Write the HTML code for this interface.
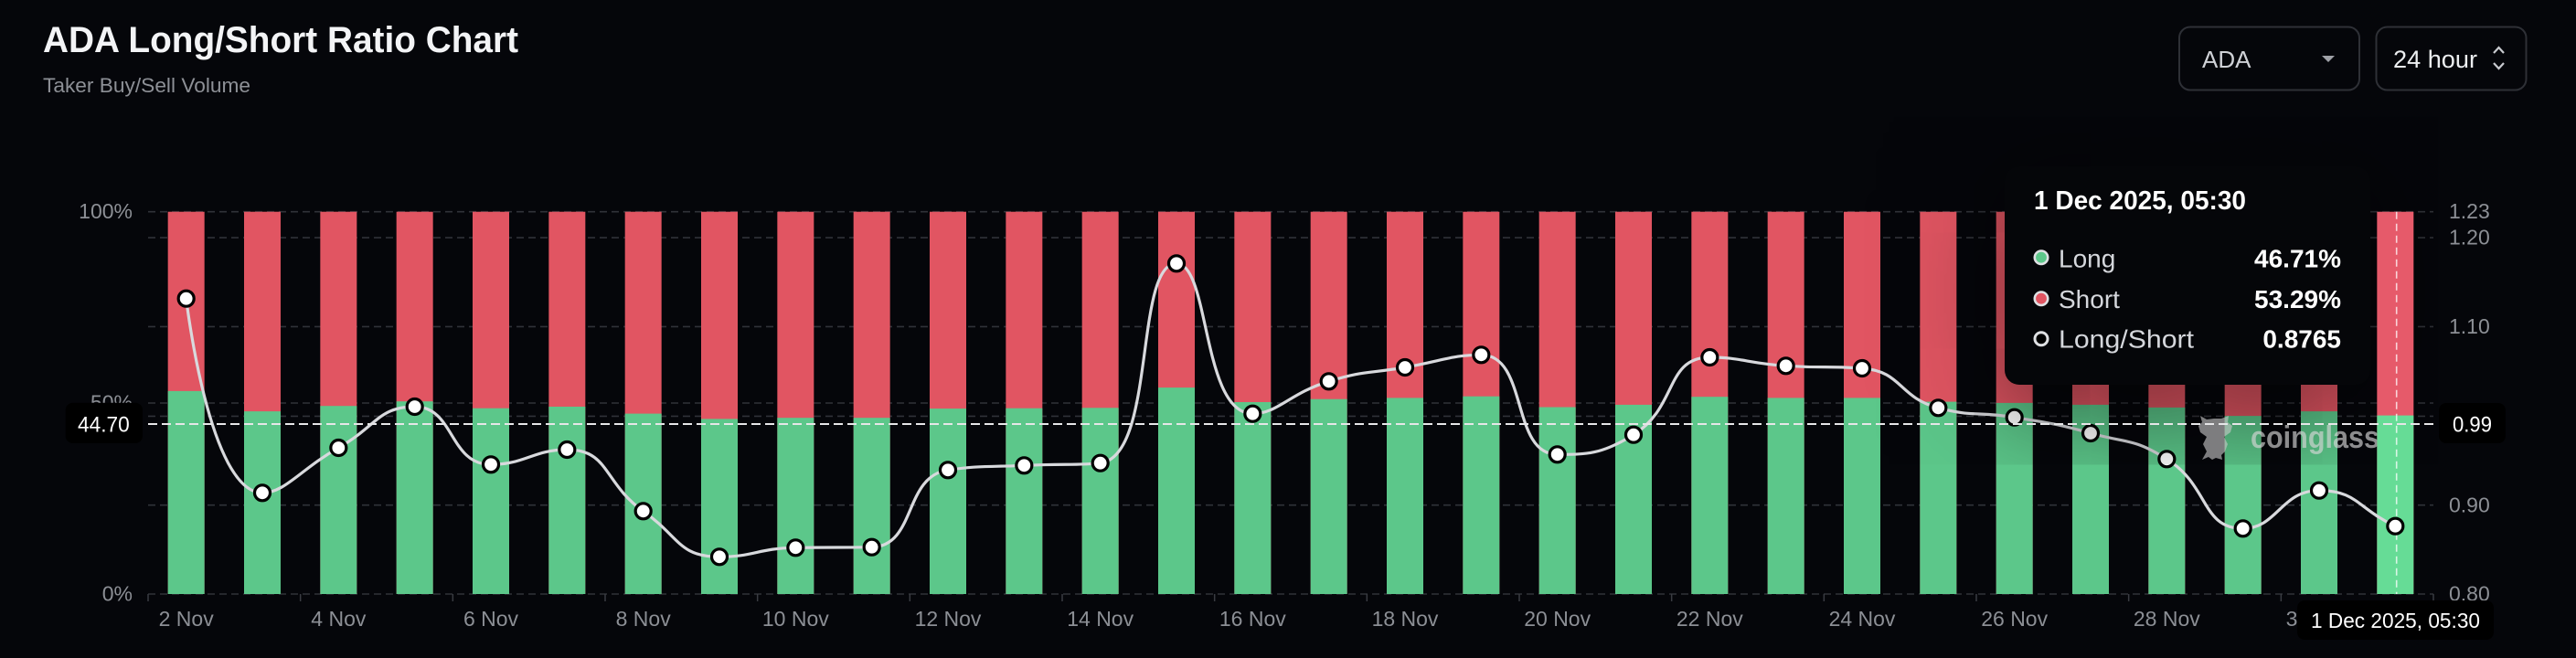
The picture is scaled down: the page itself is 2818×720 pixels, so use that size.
<!DOCTYPE html>
<html><head><meta charset="utf-8">
<style>
html,body{margin:0;padding:0;background:#05060a;}
body{width:2818px;height:720px;position:relative;overflow:hidden;font-family:"Liberation Sans",Arial,sans-serif;}
svg{position:absolute;left:0;top:0;}
#tip{position:absolute;left:2193px;top:182px;width:400px;height:239px;background:#050609;border-radius:16px;box-shadow:0 20px 150px rgba(0,0,0,0.7);}
</style></head><body>
<svg id="chart" width="2818" height="720" xmlns="http://www.w3.org/2000/svg">
<g stroke="#303238" stroke-width="1.6" stroke-dasharray="8 5">
<line x1="162" y1="231.7" x2="2662" y2="231.7"/>
<line x1="162" y1="260.1" x2="2662" y2="260.1"/>
<line x1="162" y1="357.4" x2="2662" y2="357.4"/>
<line x1="162" y1="441" x2="2662" y2="441"/>
<line x1="162" y1="455.4" x2="2662" y2="455.4"/>
<line x1="162" y1="552.7" x2="2662" y2="552.7"/>
<line x1="162" y1="650" x2="2662" y2="650"/>
</g>
<g stroke="#3a3c42" stroke-width="1.5">
<line x1="162" y1="650" x2="162" y2="658"/><line x1="328.67" y1="650" x2="328.67" y2="658"/><line x1="495.33" y1="650" x2="495.33" y2="658"/><line x1="662" y1="650" x2="662" y2="658"/><line x1="828.67" y1="650" x2="828.67" y2="658"/><line x1="995.33" y1="650" x2="995.33" y2="658"/><line x1="1162" y1="650" x2="1162" y2="658"/><line x1="1328.67" y1="650" x2="1328.67" y2="658"/><line x1="1495.33" y1="650" x2="1495.33" y2="658"/><line x1="1662" y1="650" x2="1662" y2="658"/><line x1="1828.67" y1="650" x2="1828.67" y2="658"/><line x1="1995.33" y1="650" x2="1995.33" y2="658"/><line x1="2162" y1="650" x2="2162" y2="658"/><line x1="2328.67" y1="650" x2="2328.67" y2="658"/><line x1="2495.33" y1="650" x2="2495.33" y2="658"/><line x1="2662" y1="650" x2="2662" y2="658"/>
</g>
<g fill="#e15562">
<rect x="183.67" y="231.7" width="40" height="418.3"/><rect x="267" y="231.7" width="40" height="418.3"/><rect x="350.33" y="231.7" width="40" height="418.3"/><rect x="433.67" y="231.7" width="40" height="418.3"/><rect x="517" y="231.7" width="40" height="418.3"/><rect x="600.33" y="231.7" width="40" height="418.3"/><rect x="683.67" y="231.7" width="40" height="418.3"/><rect x="767" y="231.7" width="40" height="418.3"/><rect x="850.33" y="231.7" width="40" height="418.3"/><rect x="933.67" y="231.7" width="40" height="418.3"/><rect x="1017" y="231.7" width="40" height="418.3"/><rect x="1100.33" y="231.7" width="40" height="418.3"/><rect x="1183.67" y="231.7" width="40" height="418.3"/><rect x="1267" y="231.7" width="40" height="418.3"/><rect x="1350.33" y="231.7" width="40" height="418.3"/><rect x="1433.67" y="231.7" width="40" height="418.3"/><rect x="1517" y="231.7" width="40" height="418.3"/><rect x="1600.33" y="231.7" width="40" height="418.3"/><rect x="1683.67" y="231.7" width="40" height="418.3"/><rect x="1767" y="231.7" width="40" height="418.3"/><rect x="1850.33" y="231.7" width="40" height="418.3"/><rect x="1933.67" y="231.7" width="40" height="418.3"/><rect x="2017" y="231.7" width="40" height="418.3"/><rect x="2100.33" y="231.7" width="40" height="418.3"/><rect x="2183.67" y="231.7" width="40" height="418.3"/><rect x="2267" y="231.7" width="40" height="418.3"/><rect x="2350.33" y="231.7" width="40" height="418.3"/><rect x="2433.67" y="231.7" width="40" height="418.3"/><rect x="2517" y="231.7" width="40" height="418.3"/>
</g>
<g fill="#5cc78a">
<rect x="183.67" y="427.9" width="40" height="222.1"/>
<rect x="267" y="450.1" width="40" height="199.9"/>
<rect x="350.33" y="444.2" width="40" height="205.8"/>
<rect x="433.67" y="439.2" width="40" height="210.8"/>
<rect x="517" y="446.7" width="40" height="203.3"/>
<rect x="600.33" y="445" width="40" height="205"/>
<rect x="683.67" y="452.6" width="40" height="197.4"/>
<rect x="767" y="458.4" width="40" height="191.6"/>
<rect x="850.33" y="457.2" width="40" height="192.8"/>
<rect x="933.67" y="457.2" width="40" height="192.8"/>
<rect x="1017" y="447.1" width="40" height="202.9"/>
<rect x="1100.33" y="446.7" width="40" height="203.3"/>
<rect x="1183.67" y="446.3" width="40" height="203.7"/>
<rect x="1267" y="424.1" width="40" height="225.9"/>
<rect x="1350.33" y="440" width="40" height="210"/>
<rect x="1433.67" y="436.7" width="40" height="213.3"/>
<rect x="1517" y="435.4" width="40" height="214.6"/>
<rect x="1600.33" y="433.7" width="40" height="216.3"/>
<rect x="1683.67" y="445.5" width="40" height="204.5"/>
<rect x="1767" y="442.9" width="40" height="207.1"/>
<rect x="1850.33" y="434.2" width="40" height="215.8"/>
<rect x="1933.67" y="435.4" width="40" height="214.6"/>
<rect x="2017" y="435.4" width="40" height="214.6"/>
<rect x="2100.33" y="439.6" width="40" height="210.4"/>
<rect x="2183.67" y="440.9" width="40" height="209.1"/>
<rect x="2267" y="442.9" width="40" height="207.1"/>
<rect x="2350.33" y="445.9" width="40" height="204.1"/>
<rect x="2433.67" y="455.1" width="40" height="194.9"/>
<rect x="2517" y="450.1" width="40" height="199.9"/>
</g>
<path id="line1" fill="none" stroke="#d8d9dd" stroke-width="3.2" d="M203.67,326.7 L287,539.3 L370.33,490 L453.67,445 L537,508.3 L620.33,492 L703.67,559.3 L787,609.3 L870.33,599.3 L953.67,598.7 L1037,514.3 L1120.33,509.3 L1203.67,506.7 L1287,288.3 L1370.33,452.7 L1453.67,417.3 L1537,402 L1620.33,388.3 L1703.67,497.3 L1787,475.7 L1870.33,391 L1953.67,400.3 L2037,403 L2120.33,446.3 L2203.67,456.7 L2287,474 L2370.33,502.3 L2453.67,578.3 L2537,536.7 L2620.33,575.7"/>
<g fill="#ffffff" stroke="#000" stroke-width="3.2">
<circle cx="203.67" cy="326.7" r="8.5"/><circle cx="287" cy="539.3" r="8.5"/><circle cx="370.33" cy="490" r="8.5"/><circle cx="453.67" cy="445" r="8.5"/><circle cx="537" cy="508.3" r="8.5"/><circle cx="620.33" cy="492" r="8.5"/><circle cx="703.67" cy="559.3" r="8.5"/><circle cx="787" cy="609.3" r="8.5"/><circle cx="870.33" cy="599.3" r="8.5"/><circle cx="953.67" cy="598.7" r="8.5"/><circle cx="1037" cy="514.3" r="8.5"/><circle cx="1120.33" cy="509.3" r="8.5"/><circle cx="1203.67" cy="506.7" r="8.5"/><circle cx="1287" cy="288.3" r="8.5"/><circle cx="1370.33" cy="452.7" r="8.5"/><circle cx="1453.67" cy="417.3" r="8.5"/><circle cx="1537" cy="402" r="8.5"/><circle cx="1620.33" cy="388.3" r="8.5"/><circle cx="1703.67" cy="497.3" r="8.5"/><circle cx="1787" cy="475.7" r="8.5"/><circle cx="1870.33" cy="391" r="8.5"/><circle cx="1953.67" cy="400.3" r="8.5"/><circle cx="2037" cy="403" r="8.5"/><circle cx="2120.33" cy="446.3" r="8.5"/><circle cx="2203.67" cy="456.7" r="8.5"/><circle cx="2287" cy="474" r="8.5"/><circle cx="2370.33" cy="502.3" r="8.5"/><circle cx="2453.67" cy="578.3" r="8.5"/><circle cx="2537" cy="536.7" r="8.5"/>
</g>
</svg>
<div id="tip"></div>
<svg id="over" width="2818" height="720" xmlns="http://www.w3.org/2000/svg">
<defs><clipPath id="clipLast"><rect x="2598" y="200" width="50" height="460"/></clipPath></defs>
<text x="47" y="57" font-size="40" font-weight="bold" fill="#f3f4f6" textLength="520" lengthAdjust="spacingAndGlyphs">ADA Long/Short Ratio Chart</text>
<text x="47" y="101" font-size="22" fill="#8d9096" textLength="227" lengthAdjust="spacingAndGlyphs">Taker Buy/Sell Volume</text>
<rect x="2384" y="29.5" width="197" height="69" rx="12" fill="none" stroke="#2e3036" stroke-width="2"/>
<text x="2409" y="74" font-size="26" fill="#cfd1d6">ADA</text>
<path d="M2540,61 L2554,61 L2547,68 Z" fill="#9fa1a7"/>
<rect x="2599.5" y="29.5" width="164" height="69" rx="12" fill="none" stroke="#2e3036" stroke-width="2"/>
<text x="2618" y="74" font-size="27" fill="#eceef0" textLength="92" lengthAdjust="spacingAndGlyphs">24 hour</text>
<polyline points="2728,58 2733.5,52 2739,58" fill="none" stroke="#c8cacf" stroke-width="2.2"/>
<polyline points="2728,69 2733.5,75 2739,69" fill="none" stroke="#c8cacf" stroke-width="2.2"/>
<g font-size="23" fill="#8c8f95" text-anchor="end">
<text x="145" y="239">100%</text>
<text x="145" y="448.5">50%</text>
<text x="145" y="657.5">0%</text>
</g>
<g font-size="23" fill="#8c8f95">
<text x="2679" y="239">1.23</text>
<text x="2679" y="267.5">1.20</text>
<text x="2679" y="365">1.10</text>
<text x="2679" y="463">1.00</text>
<text x="2679" y="560.5">0.90</text>
<text x="2679" y="657.5">0.80</text>
</g>
<g font-size="23" fill="#8c8f95" text-anchor="middle">
<text x="203.67" y="685">2 Nov</text><text x="370.33" y="685">4 Nov</text><text x="537" y="685">6 Nov</text><text x="703.67" y="685">8 Nov</text><text x="870.33" y="685">10 Nov</text><text x="1037" y="685">12 Nov</text><text x="1203.67" y="685">14 Nov</text><text x="1370.33" y="685">16 Nov</text><text x="1537" y="685">18 Nov</text><text x="1703.67" y="685">20 Nov</text><text x="1870.33" y="685">22 Nov</text><text x="2037" y="685">24 Nov</text><text x="2203.67" y="685">26 Nov</text><text x="2370.33" y="685">28 Nov</text><text x="2537" y="685">30 Nov</text>
</g>
<g fill="rgba(200,200,200,0.62)">
<path d="M2407,455 L2414,459 L2422,458 L2430,458 L2438,455 L2437,462 L2442,466 L2440,473 L2433,478 L2437,486 L2434,494 L2430,498 L2431,503 L2424,501 L2420,503 L2416,500 L2409,503 L2414,494 L2410,486 L2414,478 L2407,473 L2405,466 L2409,462 Z"/>
</g>
<text x="2462" y="490" font-size="34" font-weight="bold" fill="rgba(215,215,215,0.65)" textLength="141" lengthAdjust="spacingAndGlyphs">coinglass</text>
<rect x="2600.33" y="231.7" width="40" height="418.3" fill="#e65a6a"/>
<rect x="2600.33" y="454.6" width="40" height="195.4" fill="#66dc96"/>
<line x1="2621.7" y1="231.7" x2="2621.7" y2="650" stroke="rgba(255,255,255,0.75)" stroke-width="1.6" stroke-dasharray="8 5"/>
<line x1="162" y1="464" x2="2662" y2="464" stroke="#e6e6e8" stroke-width="2" stroke-dasharray="10 5"/>
<path id="line2" clip-path="url(#clipLast)" fill="none" stroke="#d8d9dd" stroke-width="3.2" d="M2537,536.7 L2620.33,575.7"/>
<circle cx="2620.33" cy="575.7" r="8.5" fill="#fff" stroke="#000" stroke-width="3.2"/>
<rect x="71.7" y="440.7" width="84.3" height="44.3" rx="8" fill="#000"/>
<text x="85" y="472.5" font-size="24" fill="#fff" textLength="56.7" lengthAdjust="spacingAndGlyphs">44.70</text>
<rect x="2668" y="441" width="73" height="44" rx="8" fill="#000"/>
<text x="2683" y="472.5" font-size="24" fill="#fff" textLength="43" lengthAdjust="spacingAndGlyphs">0.99</text>
<rect x="2513" y="657" width="215" height="43" rx="8" fill="#000"/>
<text x="2528" y="687" font-size="23" fill="#fff" textLength="185" lengthAdjust="spacingAndGlyphs">1 Dec 2025, 05:30</text>
<text x="2225" y="229" font-size="29" font-weight="bold" fill="#ffffff" textLength="232" lengthAdjust="spacingAndGlyphs">1 Dec 2025, 05:30</text>
<circle cx="2233" cy="281.7" r="7.2" fill="#5dc88a" stroke="#dfe0e3" stroke-width="2.6"/>
<text x="2252" y="292.5" font-size="28" fill="#d5d7dc">Long</text>
<text x="2561" y="292.5" font-size="28" font-weight="bold" fill="#fff" text-anchor="end">46.71%</text>
<circle cx="2233" cy="326.7" r="7.2" fill="#e15562" stroke="#dfe0e3" stroke-width="2.6"/>
<text x="2252" y="337" font-size="28" fill="#d5d7dc">Short</text>
<text x="2561" y="337" font-size="28" font-weight="bold" fill="#fff" text-anchor="end">53.29%</text>
<circle cx="2233" cy="370.7" r="7" fill="#000" stroke="#dfe0e3" stroke-width="3"/>
<text x="2252" y="380.7" font-size="28" fill="#d5d7dc" textLength="148" lengthAdjust="spacingAndGlyphs">Long/Short</text>
<text x="2561" y="380.7" font-size="28" font-weight="bold" fill="#fff" text-anchor="end">0.8765</text>
</svg>
<script>
(function(){
var ys=[326.7,539.3,490,445,508.3,492,559.3,609.3,599.3,598.7,514.3,509.3,506.7,288.3,452.7,417.3,402,388.3,497.3,475.7,391,400.3,403,446.3,456.7,474,502.3,578.3,536.7,575.7];
var n=ys.length,xs=[];
for(var i=0;i<n;i++)xs.push(203.667+83.333*i);
var s=0.5,mn=Math.min,mx=Math.max;
var d='M'+xs[0].toFixed(2)+','+ys[0];
var c0x=xs[0],c0y=ys[0];
for(var i=1;i<n;i++){
 var x=xs[i],y=ys[i],px=xs[i-1],py=ys[i-1],c1x,c1y,nx,ny;
 if(i<n-1){
  nx=xs[i+1];ny=ys[i+1];
  var vx=nx-px,vy=ny-py;
  var l0=Math.sqrt((x-px)*(x-px)+(y-py)*(y-py)),l1=Math.sqrt((nx-x)*(nx-x)+(ny-y)*(ny-y));
  var r=l1/(l0+l1);
  var ncx=x+vx*s*r,ncy=y+vy*s*r;
  ncx=mx(mn(ncx,mx(nx,x)),mn(nx,x));ncy=mx(mn(ncy,mx(ny,y)),mn(ny,y));
  vx=ncx-x;vy=ncy-y;
  c1x=x-vx*l0/l1;c1y=y-vy*l0/l1;
  c1x=mx(mn(c1x,mx(px,x)),mn(px,x));c1y=mx(mn(c1y,mx(py,y)),mn(py,y));
  vx=x-c1x;vy=y-c1y;
  ncx=x+vx*l1/l0;ncy=y+vy*l1/l0;
  d+=' C'+c0x.toFixed(2)+','+c0y.toFixed(2)+' '+c1x.toFixed(2)+','+c1y.toFixed(2)+' '+x.toFixed(2)+','+y;
  c0x=ncx;c0y=ncy;
 } else {
  c1x=x-(x-px)*s;c1y=y-(y-py)*s;
  d+=' C'+c0x.toFixed(2)+','+c0y.toFixed(2)+' '+c1x.toFixed(2)+','+c1y.toFixed(2)+' '+x.toFixed(2)+','+y;
 }
}
document.getElementById('line1').setAttribute('d',d);
document.getElementById('line2').setAttribute('d',d);
})();
</script>
</body></html>
